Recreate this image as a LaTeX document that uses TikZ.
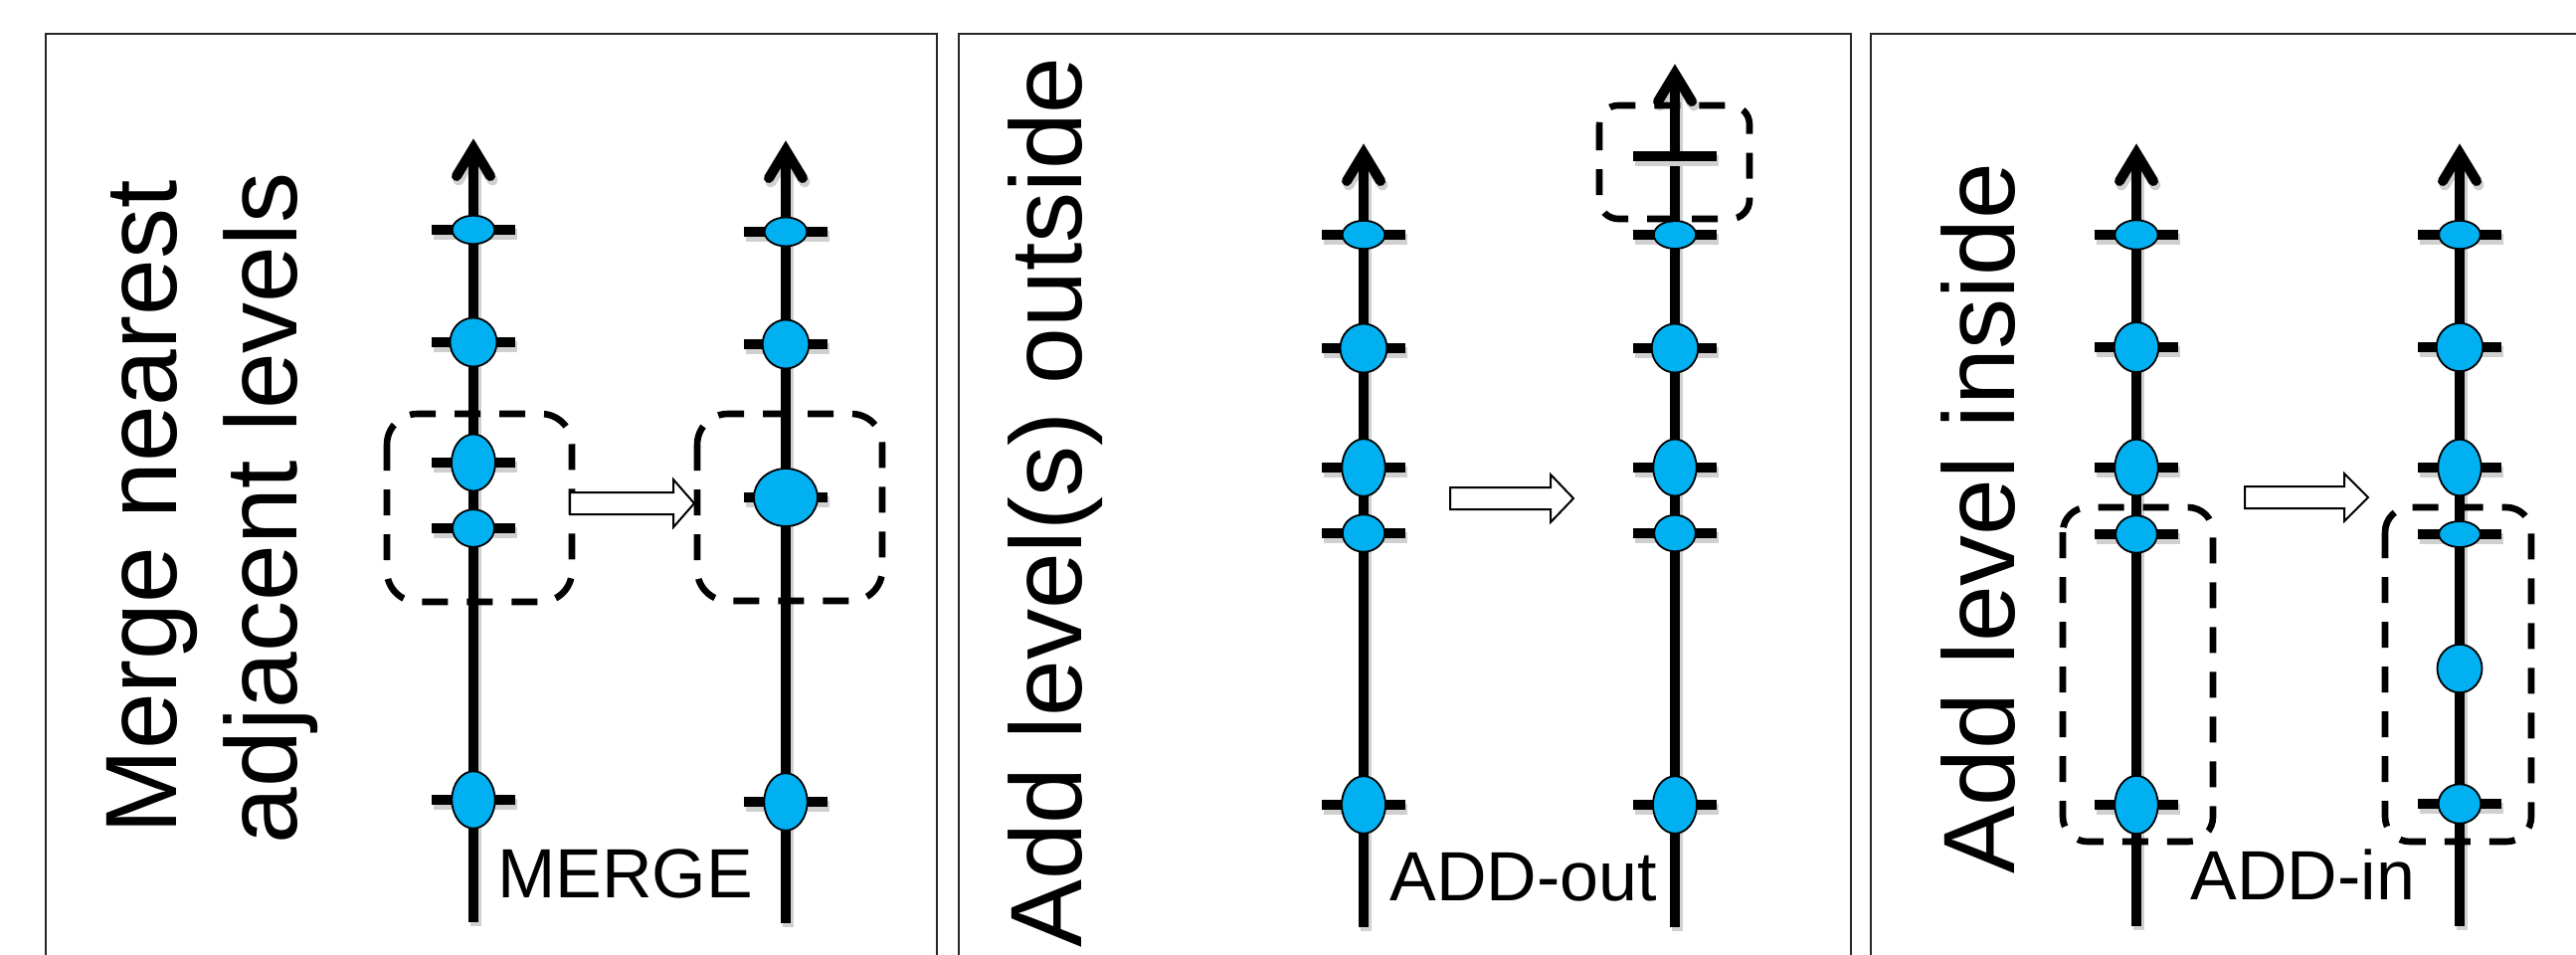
\documentclass[tikz,border=0pt]{standalone}
\usepackage{fontspec}
\setmainfont{Liberation Sans}
\usetikzlibrary{shapes.geometric,calc}
\definecolor{dotblue}{HTML}{00B0F0}
\definecolor{shadowgray}{HTML}{D0D0D0}
\tikzset{
  frame/.style={draw=black!85, line width=1pt},
  axisline/.style={line width=4.8pt, line cap=butt},
  headline/.style={line width=5pt, line cap=round, line join=miter, miter limit=10},
  tickline/.style={line width=4.8pt},
  shadowline/.style={draw=shadowgray, line width=5.5pt},
  dot/.style 2 args={ellipse, draw=black, line width=0.9pt, fill=dotblue,
    minimum width=#1pt, minimum height=#2pt, inner sep=0pt},
  dashbox/.style={draw, line width=3.3pt, dash pattern=on 13pt off 9.5pt, rounded corners=#1},
  hollow/.style={draw, fill=white, line width=1pt, line join=miter},
  bigtext/.style={font=\fontsize{51}{60}\selectfont, inner sep=0pt},
  smalltext/.style={font=\fontsize{35}{42}\selectfont, inner sep=0pt},
}
\newcommand\vaxis[4]{%
  \coordinate (#1b) at (#2,#4);
  \coordinate (#1t) at (#2,#3+9);
  \draw[shadowline] ($(#1b)+(2,4)$) -- ($(#1t)+(2,14)$);
  \draw[shadowline, line cap=round] ($(#1t)+(-15,32)$) -- ($(#1t)+(2,4)$) -- ($(#1t)+(19,32)$);
  \draw[axisline] (#1b) -- (#1t);
  \draw[headline] ($(#1t)+(-17,28)$) -- (#1t) -- ($(#1t)+(17,28)$);}
\newcommand\level[5]{%
  \draw[shadowline] (#2-40,#3+4) -- (#2+44,#3+4);
  \draw[tickline] (#2-42,#3) -- (#2+42,#3);
  \node[dot={#4}{#5}] (#1) at (#2,#3) {};}
\newcommand\hollowarrow[4]{%
  \draw[hollow] (#1,#4-11) -- (#2,#4-11) -- (#2,#4-24) -- (#3,#4) -- (#2,#4+24)
    -- (#2,#4+11) -- (#1,#4+11) -- cycle;}
\begin{document}
\begin{tikzpicture}[x=0.5pt,y=-0.5pt]
\useasboundingbox (0,0) rectangle (2590,959);
\clip (0,0) rectangle (2590,959);
\fill[white] (0,0) rectangle (2590,959);
% frames
\draw[frame] (46,34) rectangle (942,1010);
\draw[frame] (964,34) rectangle (1861,1010);
\draw[frame] (1881,34) rectangle (2700,1010);

% ---------- Panel 1 ----------
\node[bigtext, rotate=90, anchor=base] (t1a) at (177,510) {Merge nearest};
\node[bigtext, rotate=90, anchor=base] (t1b) at (298,511) {adjacent levels};
\vaxis{a1}{476}{140}{927}
\vaxis{b1}{790}{142}{928}
\level{a1l1}{476}{231}{21.3}{14.3}
\level{a1l2}{476}{344}{23.5}{24.5}
\level{a1l3}{476}{465}{22}{28.5}
\level{a1l4}{476}{531}{21}{18.8}
\level{a1l5}{476}{804}{21.7}{28.7}
\level{b1l1}{790}{233}{21.3}{14.5}
\level{b1l2}{790}{346}{23.3}{24.5}
\level{b1l3}{790}{500}{32}{29}
\level{b1l5}{790}{806}{21.7}{28.8}
\draw[dashbox=15.5pt] (389,416) rectangle (575,605);
\draw[dashbox=15.5pt] (701,416) rectangle (887,604);
\hollowarrow{573}{677}{698}{506}
\node[smalltext, anchor=base west] (m1) at (500,902) {MERGE};

% ---------- Panel 2 ----------
\node[bigtext, rotate=90, anchor=base] (t2) at (1087,505) {Add level(s) outside};
\vaxis{a2}{1371}{145}{932}
\vaxis{b2}{1684}{65}{932}
\level{a2l1}{1371}{236}{21.3}{14.2}
\level{a2l2}{1371}{350}{23.5}{24.5}
\level{a2l3}{1371}{470}{21.7}{28.8}
\level{a2l4}{1371}{536}{21.2}{18.7}
\level{a2l5}{1371}{809}{22}{28.8}
\draw[shadowline] (1684-40,161) -- (1684+44,161);
\draw[tickline] (1684-42,157) -- (1684+42,157);
\level{b2l1}{1684}{236}{21.2}{14}
\level{b2l2}{1684}{350}{23.3}{24.5}
\level{b2l3}{1684}{470}{21.7}{28.5}
\level{b2l4}{1684}{536}{20.8}{18.3}
\level{b2l5}{1684}{809}{22}{28.8}
\draw[dashbox=9.5pt] (1608,106) rectangle (1759,220);
\hollowarrow{1458}{1559}{1582}{501}
\node[smalltext, anchor=base west] (m2) at (1397,905) {ADD-out};

% ---------- Panel 3 ----------
\node[bigtext, rotate=90, anchor=base] (t3) at (2025,521) {Add level inside};
\vaxis{a3}{2148}{145}{931}
\vaxis{b3}{2473}{145}{931}
\level{a3l1}{2148}{236}{21.6}{14.7}
\level{a3l2}{2148}{349}{22.3}{25}
\level{a3l3}{2148}{470}{21.7}{28.3}
\level{a3l4}{2148}{537}{20.8}{18.7}
\level{a3l5}{2148}{809}{21.7}{29.2}
\level{b3l1}{2473}{236}{20.8}{14.2}
\level{b3l2}{2473}{349}{23.3}{24.2}
\level{b3l3}{2473}{470}{21.7}{28.3}
\level{b3l4}{2473}{537}{20.8}{13}
\node[dot={22.5}{24.2}] (b3n) at (2473,672) {};
\level{b3l5}{2473}{808}{21.3}{19.7}
\draw[dashbox=12.5pt] (2074,510) rectangle (2225,846);
\draw[dashbox=12.5pt] (2398,510) rectangle (2545,846);
\hollowarrow{2257}{2357}{2381}{500}
\node[smalltext, anchor=base west] (m3) at (2202,904) {ADD-in};
\end{tikzpicture}
\end{document}
